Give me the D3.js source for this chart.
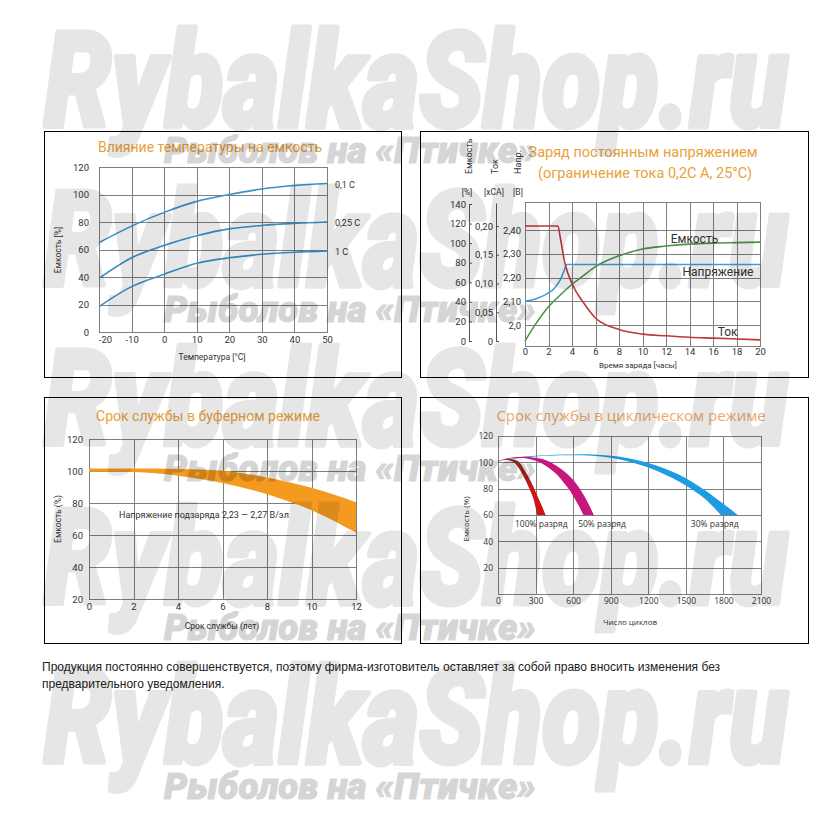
<!DOCTYPE html>
<html><head><meta charset="utf-8">
<script src="https://cdn.jsdelivr.net/npm/d3@7"></script>
<style>body{margin:0;background:#fff}svg{display:block}</style>
</head><body>
<svg id="c" width="826" height="826"></svg>
<script>
// ---------------- DATA ----------------
// Panel 1: temperature vs capacity
const tempC    = [-20,-10,0,10,20,30,40,50];
const cap01C   = [65,77,87,95,100,104,106.5,108];
const cap025C  = [39,54,63,70,75,77.5,79,80];
const cap1C    = [18.5,33,42,50,54,56.5,58,59];
const tempSeriesNames = ["0,1 C","0,25 C","1 C"];
const tempTicks = [-20,-10,0,10,20,30,40,50];
const pctTicks0to120 = [0,20,40,60,80,100,120];

// Panel 2: constant-voltage charge
const hourTicks = [0,2,4,6,8,10,12,14,16,18,20];
const capPctTicks = [0,20,40,60,80,100,120,140];
const curTicks = [0,0.05,0.10,0.15,0.20];
const curTickLabels = ["0","0,05","0,10","0,15","0,20"];
const voltTicks = [2.0,2.1,2.2,2.3,2.4];
const voltTickLabels = ["2,0","2,10","2,20","2,30","2,40"];
const curHours  = [0,2.8,3.0,3.4,4,5,6,8,10,12,14,16,18,20];
const curVals   = [0.2,0.2,0.18,0.135,0.1,0.066,0.04,0.02,0.012,0.009,0.0065,0.005,0.0035,0.002];
const voltHours = [0,1,2,2.5,3,3.3,3.55,20];
const voltVals  = [2.10,2.112,2.135,2.155,2.19,2.225,2.255,2.255];
const capHours  = [0,1,2,3,4,5,6,8,10,12,14,16,18,20];
const capVals   = [0,19,35,47,58,67,76,87,94,97,99,100,100.5,101];
const chargeSeriesNames = ["Емкость","Напряжение","Ток"];

// Panel 3: float service life
const lifeYears = [0,2,4,6,8,10,12];
const lifeUpper = [101.5,101.5,101.3,100.2,96,89.5,80.5];
const lifeLower = [99.5,99.3,97,92.5,85.5,75.5,61.5];
const lifeYTicks = [20,40,60,80,100,120];
const lifeNote = "Напряжение подзаряда 2,23 — 2,27 В/эл";

// Panel 4: cyclic service life  [cycles, capacity %]
const cycleTicks = [0,300,600,900,1200,1500,1800,2100];
const cycPctTicks = [20,40,60,80,100,120];
const dod100Outer = [[0,101],[50,102.3],[100,102.6],[159,101],[212,94],[265,85],[319,73.5],[350,67],[380,60]];
const dod100Inner = [[0,101],[50,102],[100,101.2],[133,99.5],[186,92.5],[239,82.5],[279,73.5],[297,67],[313,60]];
const dod50Outer  = [[0,101],[100,103.5],[200,104.3],[300,103.5],[372,102],[440,99],[504,95],[560,90.5],[611,85.5],[660,79],[700,72.5],[735,66],[765,60]];
const dod50Inner  = [[0,101],[100,103],[200,103.2],[280,101.8],[345,99.5],[410,95.5],[478,90],[530,84],[571,79],[610,73],[645,67],[682,60]];
const dod30Outer  = [[0,101],[150,103.5],[300,105],[450,105.8],[600,106],[750,106],[900,105],[1050,103],[1200,99.5],[1350,94.5],[1500,88],[1650,79],[1800,68.5],[1915,60]];
const dod30Inner  = [[0,101],[150,103],[300,104.5],[450,105.2],[600,105.3],[750,105],[900,103.5],[1050,100.5],[1200,96],[1350,90],[1500,82.5],[1650,72.5],[1780,60]];
const dodNames = ["100% разряд","50% разряд","30% разряд"];

const footnote = ["Продукция постоянно совершенствуется, поэтому фирма-изготовитель оставляет за собой право вносить изменения без",
                  "предварительного уведомления."];
const watermarkBig = "RybalkaShop.ru";
const watermarkSmall = "Рыболов на «Птичке»";

// ---------------- DRAWING ----------------
const svg = d3.select("#c");
const F = "Roboto, 'DejaVu Sans', sans-serif";
const F2 = "'Open Sans', 'Noto Sans', sans-serif";
const ORANGE = "#E9A23B";
const GRID = "#7f7f7f";
const TXT = "#333";

function frame(x0,y0,x1,y1){
  svg.append("rect").attr("x",x0+0.5).attr("y",y0+0.5).attr("width",x1-x0).attr("height",y1-y0)
    .attr("fill","#fff").attr("stroke","#000").attr("stroke-width",1);
}
function text(g,x,y,s,opt={}){
  return g.append("text").attr("x",x).attr("y",y).text(s)
    .attr("font-family",opt.font||F).attr("font-size",opt.size||9)
    .attr("fill",opt.fill||TXT).attr("text-anchor",opt.anchor||"middle");
}
function vtext(g,x,y,s,opt={}){
  return g.append("text").attr("transform",`translate(${x},${y}) rotate(-90)`).text(s)
    .attr("font-family",opt.font||F).attr("font-size",opt.size||9)
    .attr("fill",opt.fill||TXT).attr("text-anchor",opt.anchor||"middle");
}
function grid(g,x,y,xt,yt){
  const [yb,yt0] = y.range(), [xl,xr] = x.range();
  g.append("g").attr("transform",`translate(0,${yb})`)
    .call(d3.axisBottom(x).tickValues(xt).tickSize(-(yb-yt0)).tickFormat(""))
    .call(s=>{s.select(".domain").remove(); s.selectAll("line").attr("stroke",GRID).attr("shape-rendering","crispEdges");});
  g.append("g").attr("transform",`translate(${xl},0)`)
    .call(d3.axisLeft(y).tickValues(yt).tickSize(-(xr-xl)).tickFormat(""))
    .call(s=>{s.select(".domain").remove(); s.selectAll("line").attr("stroke",GRID).attr("shape-rendering","crispEdges");});
  g.append("rect").attr("x",xl).attr("y",yt0).attr("width",xr-xl).attr("height",yb-yt0)
    .attr("fill","none").attr("stroke",GRID).attr("shape-rendering","crispEdges");
}
function labelsLeft(g,y,x0,ticks,pad,fmt,opt={}){
  g.append("g").attr("transform",`translate(${x0},0)`)
    .call(d3.axisLeft(y).tickValues(ticks).tickSize(0).tickPadding(pad).tickFormat(fmt||(d=>d)))
    .call(s=>{s.select(".domain").remove();})
    .attr("font-family",opt.font||F).attr("font-size",opt.size||9.5)
    .call(s=>s.selectAll("text").attr("fill",TXT));
}
function labelsBottom(g,x,y0,ticks,pad,fmt,opt={}){
  g.append("g").attr("transform",`translate(0,${y0})`)
    .call(d3.axisBottom(x).tickValues(ticks).tickSize(0).tickPadding(pad).tickFormat(fmt||(d=>d)))
    .call(s=>{s.select(".domain").remove();})
    .attr("font-family",opt.font||F).attr("font-size",opt.size||9.5)
    .call(s=>s.selectAll("text").attr("fill",TXT));
}

// ===== Panel 1 =====
{
  frame(44,131,401,377);
  const g = svg.append("g");
  const x = d3.scaleLinear().domain([-20,50]).range([99,327]);
  const y = d3.scaleLinear().domain([0,120]).range([332,167]);
  grid(g,x,y,tempTicks,pctTicks0to120);
  labelsLeft(g,y,99,pctTicks0to120,10);
  labelsBottom(g,x,332,tempTicks,4,d=>String(d));
  g.selectAll("g.tick text").filter(d=>d===-20).attr("dx",6);
  text(g,210,152,"Влияние температуры на емкость",{size:14,fill:ORANGE});
  vtext(g,61,250,"Емкость [%]",{size:8.5});
  text(g,212,360,"Температура [°С]",{size:8.5});
  const series = [cap01C,cap025C,cap1C];
  const line = d3.line().x((d,i)=>x(tempC[i])).y(d=>y(d)).curve(d3.curveMonotoneX);
  series.forEach((s,k)=>{
    g.append("path").attr("d",line(s)).attr("fill","none").attr("stroke","#3a92c6").attr("stroke-width",1.6);
    text(g,335,y(s[s.length-1])+4,tempSeriesNames[k],{size:9,anchor:"start"});
  });
}

// ===== Panel 2 =====
{
  frame(420,131,808,377);
  const g = svg.append("g");
  const x = d3.scaleLinear().domain([0,20]).range([525,760]);
  const yv = d3.scaleLinear().domain([2.0,2.4]).range([325,230]);
  const yc = d3.scaleLinear().domain([0,140]).range([341,204]);
  const yi = d3.scaleLinear().domain([0,0.24]).range([341,203]);
  const yb = 346, yt = 202;
  g.append("g").attr("transform",`translate(0,${yb})`)
    .call(d3.axisBottom(x).tickValues(hourTicks).tickSize(-(yb-yt)).tickFormat(""))
    .call(s=>{s.select(".domain").remove(); s.selectAll("line").attr("stroke",GRID).attr("shape-rendering","crispEdges");});
  g.append("g").attr("transform",`translate(525,0)`)
    .call(d3.axisLeft(yv).tickValues(voltTicks).tickSize(-(760-525)).tickFormat(""))
    .call(s=>{s.select(".domain").remove(); s.selectAll("line").attr("stroke",GRID).attr("shape-rendering","crispEdges");});
  g.append("rect").attr("x",525).attr("y",yt).attr("width",235).attr("height",yb-yt)
    .attr("fill","none").attr("stroke",GRID).attr("shape-rendering","crispEdges");
  [[yc,469,capPctTicks,d=>d],[yi,496,curTicks,(d,i)=>curTickLabels[i]]].forEach(([sc,ax,tk,fmt])=>{
    g.append("g").attr("transform",`translate(${ax},0)`)
      .call(d3.axisLeft(sc).tickValues(tk).tickSizeInner(-3).tickSizeOuter(0).tickPadding(3).tickFormat(fmt))
      .attr("font-family",F).attr("font-size",9.5)
      .call(s=>{s.select(".domain").attr("stroke","#555"); s.selectAll("line").attr("stroke","#555"); s.selectAll("text").attr("fill",TXT);});
  });
  labelsLeft(g,yv,525,voltTicks,4,(d,i)=>voltTickLabels[i]);
  labelsBottom(g,x,346,hourTicks,2);
  vtext(g,472,174,"Емкость",{size:9,anchor:"start"});
  vtext(g,498,174,"Ток",{size:9,anchor:"start"});
  vtext(g,521,174,"Напр.",{size:9,anchor:"start"});
  text(g,467,195,"[%]",{size:8.5});
  text(g,494,195,"[xCA]",{size:8.5});
  text(g,518,195,"[B]",{size:8.5});
  text(g,643,157,"Заряд постоянным напряжением",{size:14.5,fill:ORANGE});
  text(g,645,178,"(ограничение тока 0,2С А, 25°С)",{size:14.5,fill:ORANGE});
  text(g,638,368,"Время заряда [часы]",{size:8});
  const lc = d3.line().x((d,i)=>x(capHours[i])).y(d=>yc(d)).curve(d3.curveMonotoneX);
  const lv = d3.line().x((d,i)=>x(voltHours[i])).y(d=>yv(d)).curve(d3.curveMonotoneX);
  const li = d3.line().x((d,i)=>x(curHours[i])).y(d=>yi(d)).curve(d3.curveMonotoneX);
  g.append("path").attr("d",lv(voltVals)).attr("fill","none").attr("stroke","#3c9fd6").attr("stroke-width",1.6);
  g.append("path").attr("d",lc(capVals)).attr("fill","none").attr("stroke","#4f9346").attr("stroke-width",1.6);
  g.append("path").attr("d",li(curVals)).attr("fill","none").attr("stroke","#c0383c").attr("stroke-width",1.6);
  text(g,x(12.4),yc(100.5),chargeSeriesNames[0],{size:12,anchor:"start"});
  text(g,x(13.4),yv(2.205),chargeSeriesNames[1],{size:12,anchor:"start"});
  text(g,x(16.4),yi(0.009),chargeSeriesNames[2],{size:12,anchor:"start"});
}

// ===== Panel 3 =====
{
  frame(44,397,401,643);
  const g = svg.append("g");
  const x = d3.scaleLinear().domain([0,12]).range([89,356]);
  const y = d3.scaleLinear().domain([20,120]).range([599,439]);
  grid(g,x,y,lifeYears,lifeYTicks);
  const area = d3.area().x((d,i)=>x(lifeYears[i])).y0((d,i)=>y(lifeLower[i])).y1(d=>y(d)).curve(d3.curveMonotoneX);
  g.append("path").attr("d",area(lifeUpper)).attr("fill","#F39A1F");
  labelsLeft(g,y,89,lifeYTicks,6);
  labelsBottom(g,x,599,lifeYears,4);
  text(g,208,421,"Срок службы в буферном режиме",{size:14,fill:ORANGE});
  text(g,119,518,lifeNote,{size:9,anchor:"start"});
  vtext(g,61,519,"Емкость (%)",{size:8.5});
  text(g,222,629,"Срок службы (лет)",{size:8.5});
}

// ===== Panel 4 =====
{
  frame(420,397,808,643);
  const g = svg.append("g");
  const x = d3.scaleLinear().domain([0,2100]).range([498,761]);
  const y = d3.scaleLinear().domain([0,120]).range([594,436]);
  grid(g,x,y,cycleTicks,[0,...cycPctTicks]);
  const defs = svg.append("defs");
  const gr = defs.append("linearGradient").attr("id","redg").attr("x1",0).attr("y1",0).attr("x2",0).attr("y2",1);
  gr.append("stop").attr("offset","0%").attr("stop-color","#8a2a20");
  gr.append("stop").attr("offset","55%").attr("stop-color","#cc1616");
  gr.append("stop").attr("offset","100%").attr("stop-color","#d01212");
  const ln = d3.line().x(d=>x(d[0])).y(d=>y(d[1])).curve(d3.curveCatmullRom);
  const band = (o,i)=> ln(o) + "L" + ln(i.slice().reverse()).slice(1) + "Z";
  g.append("path").attr("d",band(dod30Outer,dod30Inner)).attr("fill","#1d9be3");
  g.append("path").attr("d",band(dod50Outer,dod50Inner)).attr("fill","#c7167c");
  g.append("path").attr("d",band(dod100Outer,dod100Inner)).attr("fill","url(#redg)");
  labelsLeft(g,y,498,cycPctTicks,5,d=>d,{font:F2,size:8.5});
  labelsBottom(g,x,594,cycleTicks,4,d=>d,{font:F2,size:8.5});
  text(g,631,421,"Срок службы в циклическом режиме",{size:15,fill:"#EFA86C",font:F2});
  vtext(g,469,519,"Емкость (%)",{size:8,font:F2});
  text(g,630,625,"Число циклов",{size:8,font:F2});
  text(g,x(135),y(51),dodNames[0],{size:8.5,anchor:"start",font:F2});
  text(g,x(640),y(51),dodNames[1],{size:8.5,anchor:"start",font:F2});
  text(g,x(1540),y(51),dodNames[2],{size:8.5,anchor:"start",font:F2});
}

// ===== Footnote =====
footnote.forEach((s,i)=>{
  svg.append("text").attr("x",42).attr("y",671+i*17).text(s)
    .attr("font-family","'Liberation Sans', Arial, sans-serif").attr("font-size",12).attr("fill","#222");
});

// ===== Watermark =====
{
  const wm = svg.append("g").attr("pointer-events","none");
  const rows = [0,1,2,3,4];
  const WMF = "'Roboto','Liberation Sans',sans-serif";
  rows.forEach(r=>{
    wm.append("g").attr("opacity",0.095).append("text").attr("x",44).attr("y",127+r*159).text(watermarkBig)
      .attr("font-family",WMF).attr("font-weight",900).attr("font-style","italic")
      .attr("font-size",134).attr("textLength",744).attr("lengthAdjust","spacingAndGlyphs")
      .attr("fill","#000").attr("stroke","#000").attr("stroke-width",5).attr("stroke-linejoin","round");
    wm.append("g").attr("opacity",0.16).append("text").attr("x",164).attr("y",163+r*159).text(watermarkSmall)
      .attr("font-family",WMF).attr("font-weight",900).attr("font-style","italic")
      .attr("font-size",37).attr("textLength",372).attr("lengthAdjust","spacingAndGlyphs")
      .attr("fill","#000").attr("stroke","#000").attr("stroke-width",1.2).attr("stroke-linejoin","round");
  });
}
</script>
</body></html>
